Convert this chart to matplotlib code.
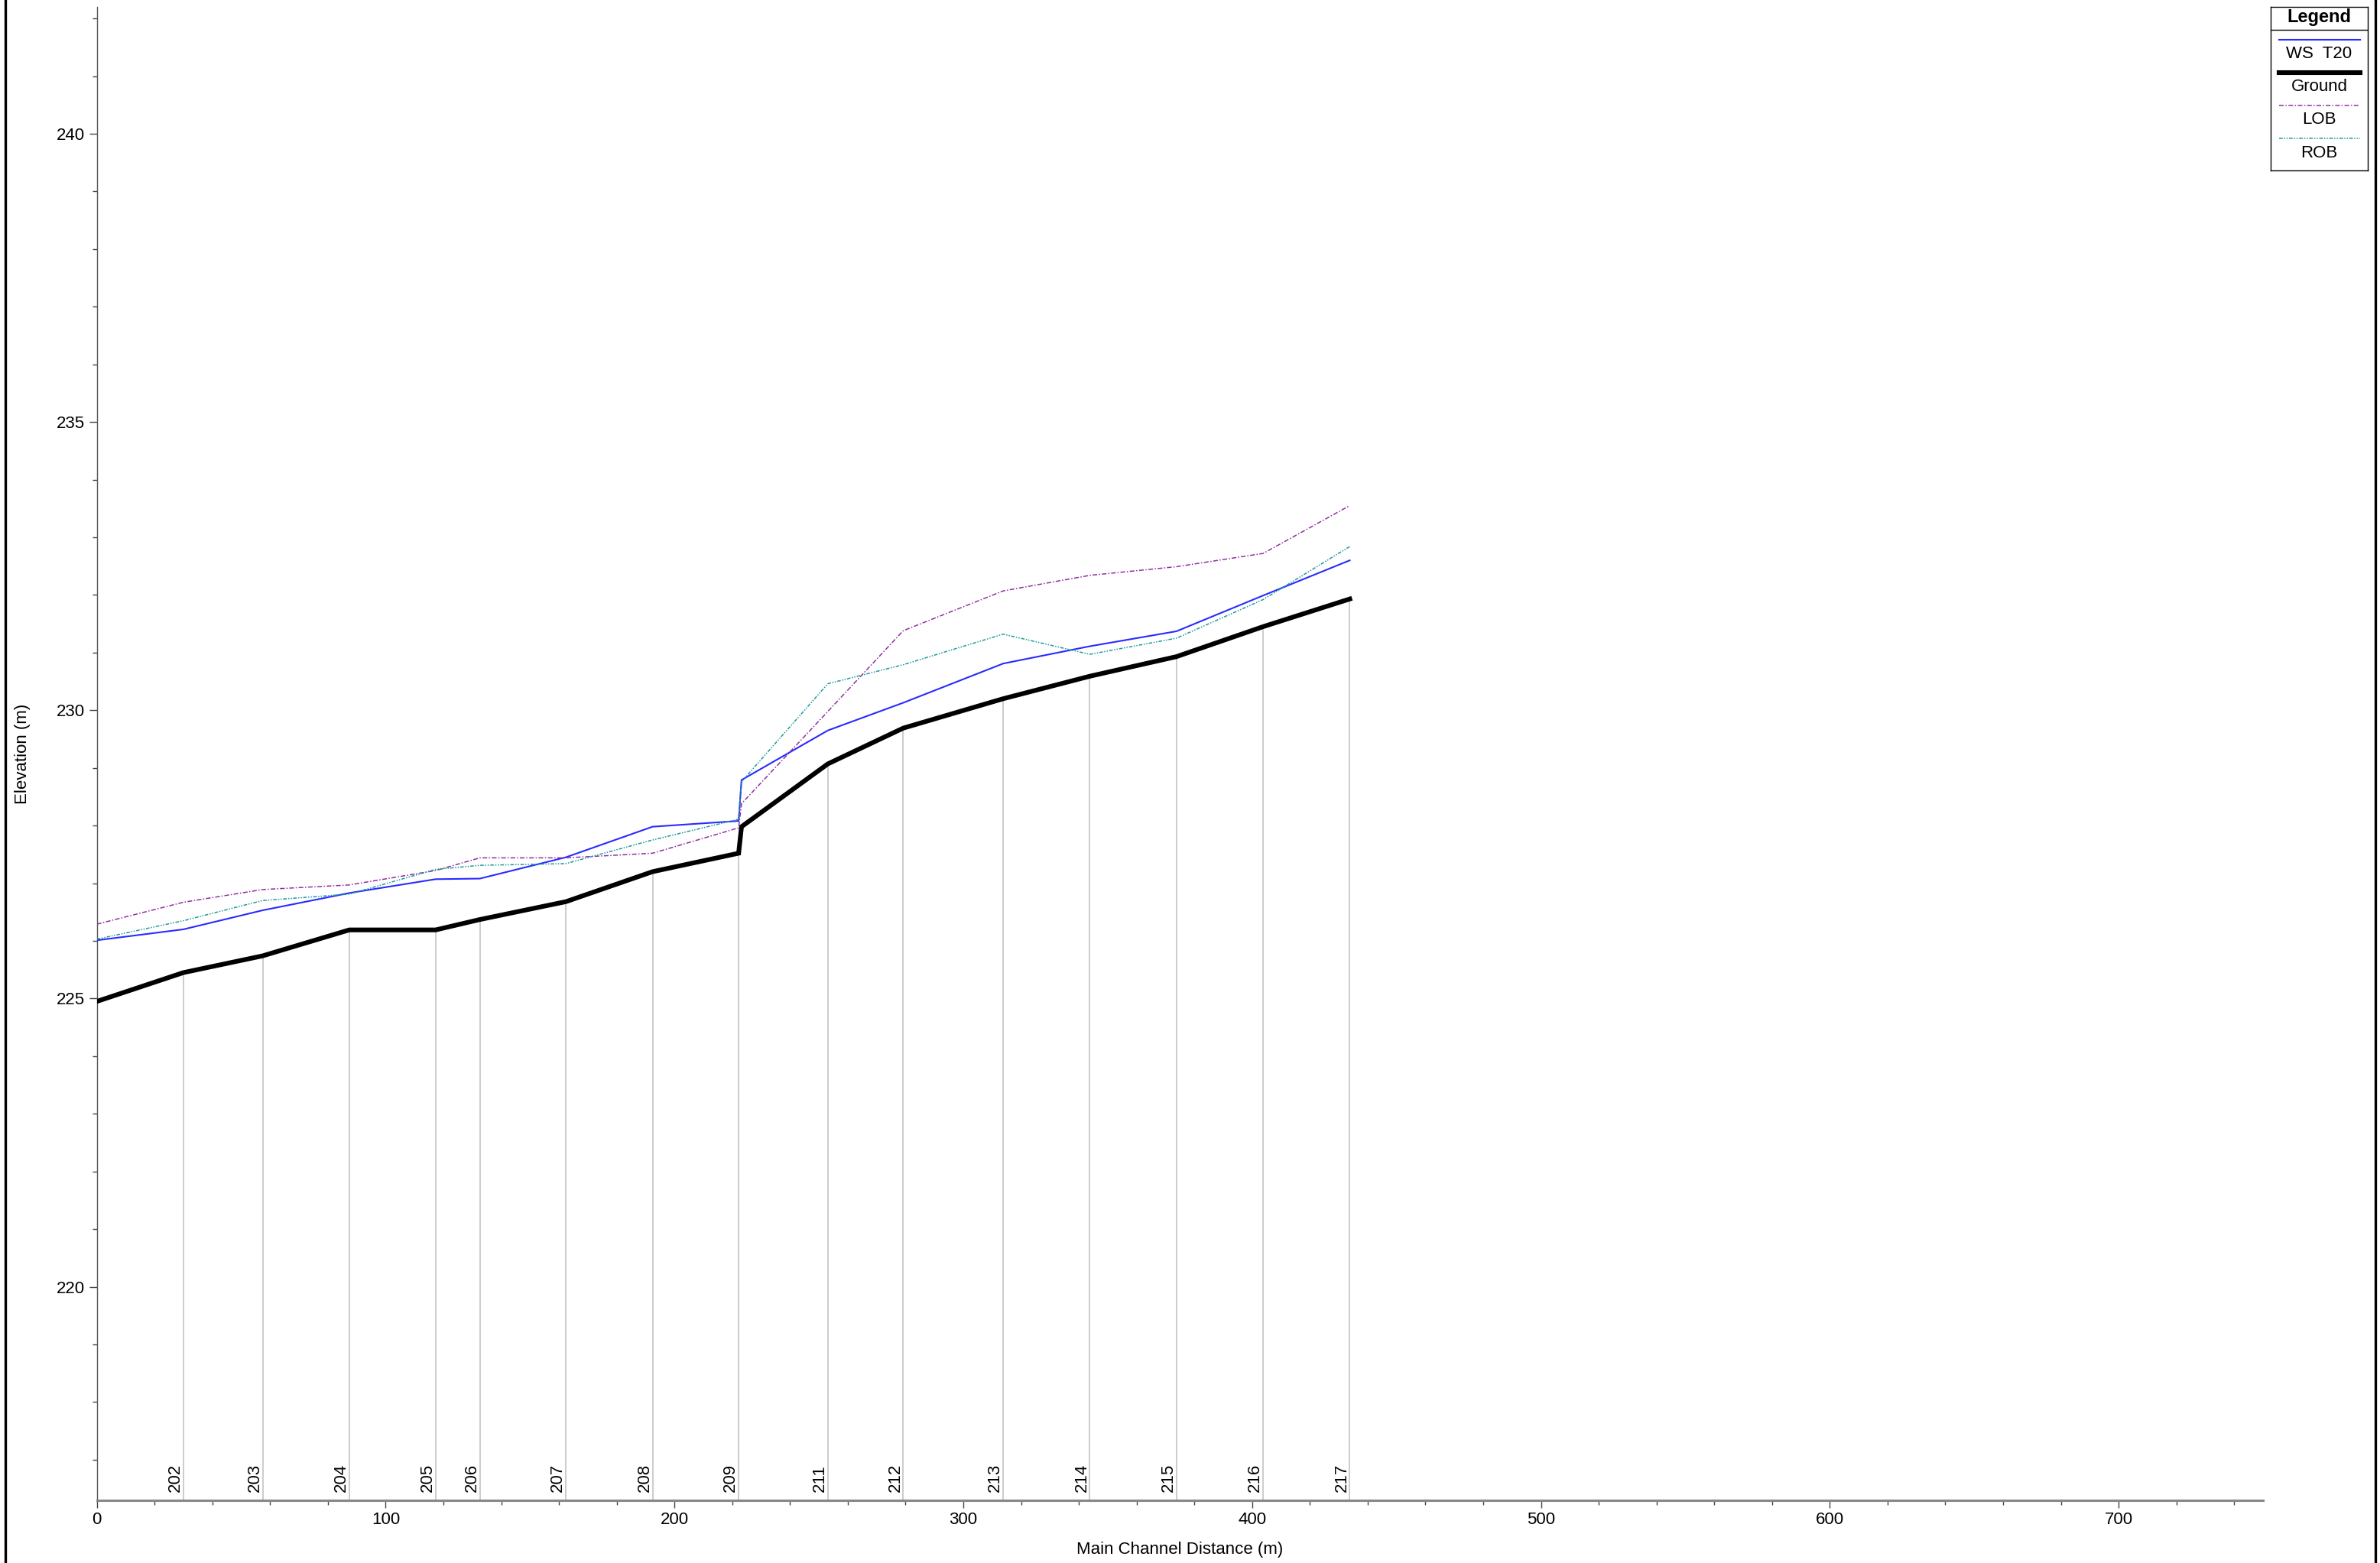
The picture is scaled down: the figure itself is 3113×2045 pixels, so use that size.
import numpy as np
import matplotlib
matplotlib.use("Agg")
import matplotlib.pyplot as plt
from matplotlib.lines import Line2D
from matplotlib.ticker import MultipleLocator

plt.rcParams['font.family'] = ['Liberation Sans', 'DejaVu Sans']

# River stations along the reach (main channel distance, m)
stations = ['', '202', '203', '204', '205', '206', '207', '208', '209', '',
            '211', '212', '213', '214', '215', '216', '217']
distance = [0.0, 30.0, 57.4, 87.4, 117.3, 132.6, 162.4, 192.4, 222.2, 223.2,
            253.1, 279.2, 313.8, 343.8, 373.8, 403.8, 433.8]

# Profile elevations (m)
ground = [224.95, 225.45, 225.74, 226.19, 226.19, 226.37, 226.68, 227.20, 227.52, 227.98,
          229.07, 229.69, 230.20, 230.59, 230.93, 231.45, 231.93]
ws_t20 = [226.01, 226.20, 226.53, 226.83, 227.07, 227.08, 227.45, 227.98, 228.08, 228.79,
          229.65, 230.13, 230.81, 231.11, 231.37, 231.99, 232.60]
lob = [226.29, 226.67, 226.89, 226.97, 227.22, 227.44, 227.44, 227.52, 227.96, 228.38,
       229.98, 231.38, 232.07, 232.34, 232.49, 232.72, 233.55]
rob = [226.03, 226.35, 226.70, 226.81, 227.24, 227.31, 227.34, 227.75, 228.11, 228.76,
       230.46, 230.79, 231.32, 230.97, 231.25, 231.92, 232.84]

series = [
    ('WS  T20', ws_t20, dict(color='#2a2aff', lw=1.5, ls='-')),
    ('Ground', ground, dict(color='black', lw=4.4, ls='-')),
    ('LOB', lob, dict(color='#9030a0', lw=1.1, ls=(0, (4, 1.5, 1, 1.5)))),
    ('ROB', rob, dict(color='#1f9a9a', lw=1.1, ls=(0, (3, 1.2, 1, 1.2, 1, 1.2)))),
]

W, H = 3113, 2045
FS = 16
fig = plt.figure(figsize=(W / 100, H / 100), dpi=100)

def px_box(x0, y0, x1, y1):
    return [x0 / W, 1 - y1 / H, (x1 - x0) / W, (y1 - y0) / H]

ax = fig.add_axes(px_box(126.7, 9, 2960, 1962.7))
ax.set_xlim(0, 750)
ax.set_ylim(216.3, 242.2)

# cross-section markers: grey verticals from the ground down to the axis
for x, z, name in zip(distance, ground, stations):
    if name:
        ax.plot([x, x], [216.3, z], color='#cccccc', lw=1.4, zorder=1)

for name, vals, style in series:
    ax.plot(distance, vals, zorder=3, solid_joinstyle='miter', **style)

for x, name in zip(distance, stations):
    if name:
        ax.annotate(name, xy=(x, 0), xycoords=('data', 'axes fraction'),
                    xytext=(0, 8), textcoords='offset points',
                    rotation=90, ha='right', va='bottom', fontsize=FS)

for side in ('top', 'right'):
    ax.spines[side].set_visible(False)
ax.spines['left'].set_color('#555555')
ax.spines['left'].set_linewidth(1.0)
ax.spines['bottom'].set_color('#888888')
ax.spines['bottom'].set_linewidth(2.2)

ax.xaxis.set_major_locator(MultipleLocator(100))
ax.xaxis.set_minor_locator(MultipleLocator(20))
ax.yaxis.set_major_locator(MultipleLocator(5))
ax.yaxis.set_minor_locator(MultipleLocator(1))
ax.tick_params(axis='both', which='major', length=7, width=1.0, color='#444444',
               labelsize=FS, pad=4)
ax.tick_params(axis='both', which='minor', length=4, width=1.0, color='#444444')

fig.text(1543 / W, 1 - 2027 / H, 'Main Channel Distance (m)', ha='center',
         va='center', fontsize=FS)
fig.text(30 / W, 1 - 986 / H, 'Elevation (m)', ha='center', va='center',
         rotation=90, fontsize=FS)

# page frame edges
fig.add_artist(Line2D([7 / W, 7 / W], [0, 1], color='black', lw=2.4))
fig.add_artist(Line2D([3107 / W, 3107 / W], [0, 1], color='black', lw=2.4))

# legend box
lax = fig.add_axes(px_box(2970, 9, 3097, 223))
lax.set_xlim(0, 127)
lax.set_ylim(214, 0)
lax.set_xticks([])
lax.set_yticks([])
for sp in lax.spines.values():
    sp.set_linewidth(1.0)
lax.axhline(30, color='black', lw=1.0)
lax.text(63.5, 14, 'Legend', ha='center', va='center', fontsize=FS + 1, fontweight='bold')
for i, (name, vals, style) in enumerate(series):
    y_line = 43 + i * 43
    lax.plot([11, 117], [y_line, y_line], **style)
    lax.text(63.5, y_line + 19, name, ha='center', va='center', fontsize=FS)

fig.savefig('out.png', dpi=100, facecolor='white')
